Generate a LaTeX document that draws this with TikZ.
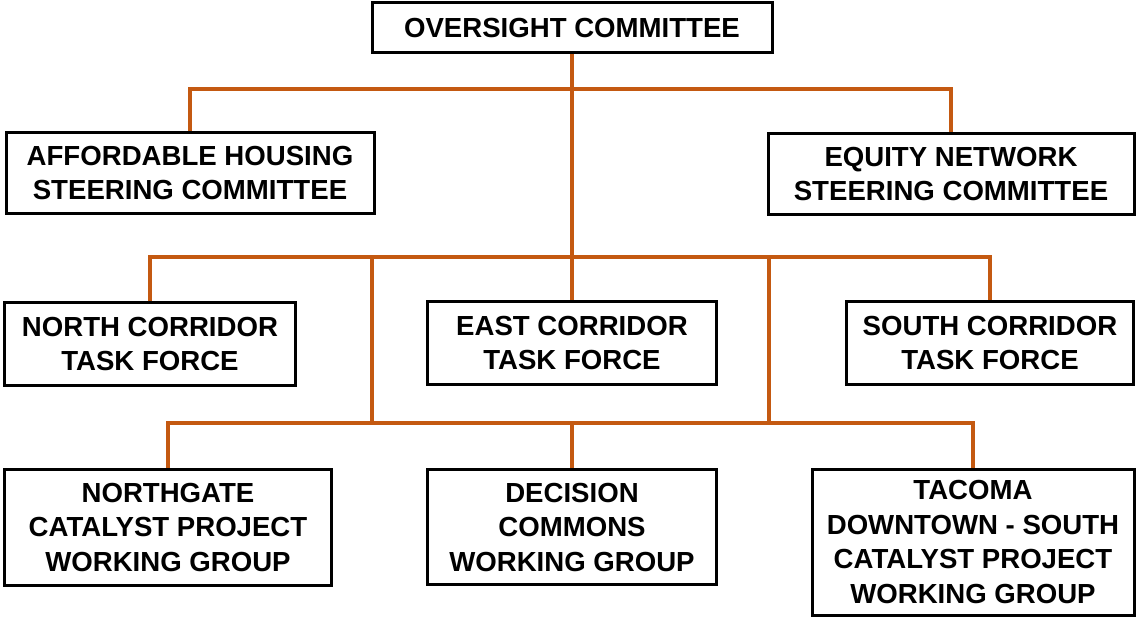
\documentclass[tikz,border=0pt]{standalone}
\usepackage{fontspec}
\setmainfont{Liberation Sans}
\usetikzlibrary{positioning}
\definecolor{linkc}{RGB}{196,89,17}

\begin{document}
\begin{tikzpicture}[x=1pt, y=-1pt,
  box/.style={draw, line width=3pt, fill=white, align=center, inner sep=0pt,
    font=\fontsize{27.6}{34.5}\selectfont\bfseries},
  link/.style={draw=linkc, line width=4pt}]
  \useasboundingbox (0,0) rectangle (1138,620);
  % top level
  \node[box, minimum width=400pt, minimum height=50pt] (over) at (572,28) {OVERSIGHT COMMITTEE};
  \node[box, minimum width=368pt, minimum height=81pt] (afford) at (190,173) {AFFORDABLE HOUSING\\STEERING COMMITTEE};
  \node[box, minimum width=366pt, minimum height=81pt] (equity) at (951,174) {EQUITY NETWORK\\STEERING COMMITTEE};
  % task forces
  \node[box, minimum width=291pt, minimum height=82pt] (north) at (150,344) {NORTH CORRIDOR\\TASK FORCE};
  \node[box, minimum width=289pt, minimum height=82pt] (east) at (572,343) {EAST CORRIDOR\\TASK FORCE};
  \node[box, minimum width=287pt, minimum height=82pt] (south) at (990,343) {SOUTH CORRIDOR\\TASK FORCE};
  % working groups
  \node[box, minimum width=327pt, minimum height=116pt] (ngate) at (168,527) {NORTHGATE\\CATALYST PROJECT\\WORKING GROUP};
  \node[box, minimum width=289pt, minimum height=115pt] (decision) at (572,527) {DECISION\\COMMONS\\WORKING GROUP};
  \node[box, minimum width=322pt, minimum height=146pt] (tacoma) at (973,542) {TACOMA\\DOWNTOWN - SOUTH\\CATALYST PROJECT\\WORKING GROUP};
  % branch points
  \coordinate (b1) at (572,89);
  \coordinate (b2) at (572,257);
  \coordinate (l2) at (372,257);
  \coordinate (r2) at (769,257);
  \coordinate (l3) at (372,423);
  \coordinate (r3) at (769,423);
  % connectors
  \draw[link] (over.south) -- (east.north);
  \draw[link] (afford.north) |- (b1) -| (equity.north);
  \draw[link] (north.north) |- (b2) -| (south.north);
  \draw[link] (l2) -- (l3);
  \draw[link] (r2) -- (r3);
  \draw[link] (ngate.north) |- (l3) -- (r3) -| (tacoma.north);
  \draw[link] (decision.north) -- (decision.north |- l3);
\end{tikzpicture}
\end{document}
